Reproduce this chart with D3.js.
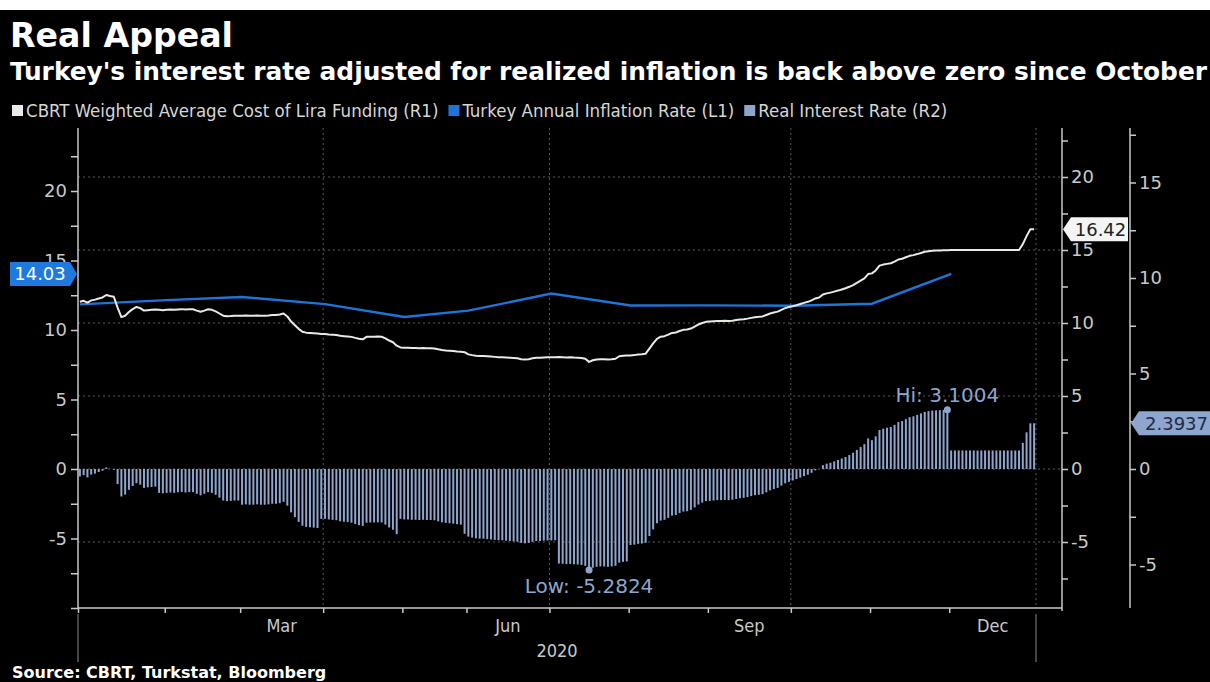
<!DOCTYPE html>
<html>
<head>
<meta charset="utf-8">
<title>Real Appeal</title>
<script src="https://cdn.jsdelivr.net/npm/d3@7"></script>
<style>
  body { margin: 0; background: #000; }
  svg { display: block; }
  text { font-family: "DejaVu Sans", sans-serif; }
  .cond { font-family: "DejaVu Sans Condensed", "DejaVu Sans", sans-serif; font-stretch: condensed; }
</style>
</head>
<body>
<svg id="chart" width="1210" height="682"></svg>
<script>
const width = 1210;
const height = 682;

// weekdays in 2020 with no Turkish market fixing
const holidays = ["2020-04-23", "2020-05-01", "2020-05-19", "2020-05-25", "2020-05-26",
                  "2020-07-15", "2020-07-31", "2020-10-29"];

// CBRT weighted average cost of lira funding, one value per trading day (R1)
const fundingCost = [
  // Jan
  11.45, 11.52, 11.40, 11.55, 11.60, 11.68, 11.75, 11.92, 11.85, 11.80, 11.05, 10.40,
  10.50, 10.75, 10.95, 11.10, 11.02, 10.85, 10.88, 10.90, 10.92, 10.90, 10.88,
  // Feb
  10.90, 10.92, 10.90, 10.93, 10.95, 10.92, 10.94, 10.94, 10.85, 10.77,
  10.85, 10.94, 10.90, 10.80, 10.65, 10.50, 10.47, 10.48, 10.50, 10.50,
  // Mar
  10.50, 10.52, 10.50, 10.50, 10.52, 10.50, 10.50, 10.52, 10.55, 10.55, 10.58,
  10.65, 10.45, 10.10, 9.85, 9.60, 9.40, 9.34, 9.32, 9.30, 9.28, 9.25,
  // Apr
  9.25, 9.22, 9.20, 9.18, 9.12, 9.10, 9.08, 9.05, 8.98, 8.92, 8.88,
  9.05, 9.06, 9.06, 9.07, 9.06, 8.95, 8.80, 8.68, 8.45, 8.33,
  // May
  8.30, 8.30, 8.28, 8.28, 8.27, 8.28, 8.27, 8.27, 8.26, 8.20, 8.15, 8.12,
  8.10, 8.08, 8.05, 8.03, 8.00,
  // Jun
  7.85, 7.80, 7.76, 7.74, 7.74, 7.72, 7.70, 7.68, 7.66, 7.66, 7.64,
  7.62, 7.60, 7.58, 7.52, 7.50, 7.52, 7.58, 7.62, 7.62, 7.64, 7.65,
  // Jul
  7.65, 7.66, 7.67, 7.66, 7.64, 7.65, 7.63, 7.62, 7.60, 7.55, 7.3376,
  7.45, 7.50, 7.52, 7.52, 7.50, 7.52, 7.55, 7.72, 7.76, 7.78,
  // Aug
  7.78, 7.80, 7.84, 7.86, 7.90, 8.25, 8.60, 8.92, 9.06, 9.10, 9.20,
  9.32, 9.35, 9.45, 9.53, 9.55, 9.62, 9.75, 9.90, 10.00, 10.08,
  // Sep
  10.10, 10.12, 10.14, 10.14, 10.15, 10.14, 10.16, 10.20, 10.24, 10.26, 10.30,
  10.35, 10.40, 10.42, 10.45, 10.55, 10.65, 10.72, 10.78, 10.90, 11.02, 11.10,
  // Oct
  11.15, 11.22, 11.30, 11.38, 11.45, 11.55, 11.68, 11.75, 11.95, 12.03, 12.08,
  12.15, 12.22, 12.30, 12.38, 12.48, 12.60, 12.75, 12.90, 13.05, 13.35,
  // Nov
  13.40, 13.60, 13.93, 14.00, 14.05, 14.09, 14.20, 14.35, 14.40, 14.50, 14.60,
  14.65, 14.72, 14.80, 14.88, 14.92, 14.95, 14.96, 14.97, 14.98, 14.99,
  // Dec
  15.00, 15.00, 15.00, 15.00, 15.00, 15.00, 15.00, 15.00, 15.00, 15.00, 15.00, 15.00,
  15.00, 15.00, 15.00, 15.00, 15.00, 15.00, 15.00, 15.40, 15.95, 16.42, 16.4237
];

// real interest rate, one bar per trading day (R2)
const realRate = [
  // Jan
  -0.39, -0.32, -0.44, -0.29, -0.24, -0.16, -0.09, 0.08, 0.01, -0.04, -0.79, -1.44,
  -1.34, -1.09, -0.89, -0.74, -0.82, -0.99, -0.96, -0.94, -0.92, -1.25, -1.27,
  // Feb
  -1.25, -1.23, -1.25, -1.22, -1.20, -1.23, -1.21, -1.21, -1.30, -1.38,
  -1.30, -1.21, -1.25, -1.35, -1.50, -1.65, -1.68, -1.67, -1.65, -1.65,
  // Mar
  -1.87, -1.85, -1.87, -1.87, -1.85, -1.87, -1.87, -1.85, -1.82, -1.82, -1.79,
  -1.72, -1.92, -2.27, -2.52, -2.77, -2.97, -3.03, -3.05, -3.07, -3.09, -2.61,
  // Apr
  -2.61, -2.64, -2.66, -2.68, -2.74, -2.76, -2.78, -2.81, -2.88, -2.94, -2.98,
  -2.81, -2.80, -2.80, -2.79, -2.80, -2.91, -3.06, -3.18, -3.41, -2.61,
  // May
  -2.64, -2.64, -2.66, -2.66, -2.67, -2.66, -2.67, -2.67, -2.68, -2.74, -2.79, -2.82,
  -2.84, -2.86, -2.89, -2.91, -3.39,
  // Jun
  -3.54, -3.59, -3.63, -3.65, -3.65, -3.67, -3.69, -3.71, -3.73, -3.73, -3.75,
  -3.77, -3.79, -3.81, -3.87, -3.89, -3.87, -3.81, -3.77, -3.77, -3.75, -3.74,
  // Jul
  -3.74, -3.73, -4.95, -4.96, -4.98, -4.97, -4.99, -5.00, -5.02, -5.07, -5.2824,
  -5.17, -5.12, -5.10, -5.10, -5.12, -5.10, -5.07, -4.90, -4.86, -4.84,
  // Aug
  -3.98, -3.96, -3.92, -3.90, -3.86, -3.51, -3.16, -2.84, -2.70, -2.66, -2.56,
  -2.44, -2.41, -2.31, -2.23, -2.21, -2.14, -2.01, -1.86, -1.76, -1.68,
  // Sep
  -1.67, -1.65, -1.63, -1.63, -1.62, -1.63, -1.61, -1.57, -1.53, -1.51, -1.47,
  -1.42, -1.37, -1.35, -1.32, -1.22, -1.12, -1.05, -0.99, -0.87, -0.75, -0.67,
  // Oct
  -0.60, -0.53, -0.45, -0.37, -0.30, -0.20, -0.07, 0.00, 0.20, 0.28, 0.33,
  0.40, 0.47, 0.55, 0.63, 0.73, 0.85, 1.00, 1.15, 1.30, 1.60,
  // Nov
  1.51, 1.71, 2.04, 2.11, 2.16, 2.20, 2.31, 2.46, 2.51, 2.61, 2.71,
  2.76, 2.83, 2.91, 2.99, 3.03, 3.06, 3.07, 3.08, 3.09, 3.1004,
  // Dec
  0.97, 0.97, 0.97, 0.97, 0.97, 0.97, 0.97, 0.97, 0.97, 0.97, 0.97, 0.97,
  0.97, 0.97, 0.97, 0.97, 0.97, 0.97, 0.97, 1.37, 1.92, 2.39, 2.3937
];

// annual CPI inflation, drawn on the first trading day of the following month (L1)
const inflationMonths = ["2020-01", "2020-02", "2020-03", "2020-04", "2020-05", "2020-06",
                         "2020-07", "2020-08", "2020-09", "2020-10", "2020-11", "2020-12"];
const inflation = [11.84, 12.15, 12.37, 11.86, 10.94, 11.39, 12.62, 11.76, 11.77, 11.75, 11.89, 14.03];

const legendLabels = ["CBRT Weighted Average Cost of Lira Funding (R1)",
                      "Turkey Annual Inflation Rate (L1)",
                      "Real Interest Rate (R2)"];
const monthLabels = ["Mar", "Jun", "Sep", "Dec"];
const gridMonths = ["Apr", "Jul", "Oct"];

const colors = { cost: "#e9e9e9", cpi: "#1f74d8", real: "#8ea5cd", axis: "#c9c9c9", grid: "#5a5a5a" };

// trading days
const fmtDay = d3.timeFormat("%Y-%m-%d");
const fmtMonth = d3.timeFormat("%Y-%m");
const fmtMon = d3.timeFormat("%b");
const days = d3.timeDay.range(new Date(2020, 0, 1), new Date(2021, 0, 1))
  .filter(d => d.getDay() > 0 && d.getDay() < 6 && !holidays.includes(fmtDay(d)));

const svg = d3.select("#chart");

// backgrounds
svg.append("rect").attr("width", width).attr("height", height).attr("fill", "#fff");
svg.append("rect").attr("y", 10).attr("width", width).attr("height", height - 10).attr("fill", "#000");

// scales
const x = d3.scaleLinear().domain([0, days.length]).range([78, 1036]);
const yL = d3.scaleLinear().domain([-10, 20]).range([608, 191]);
const yR1 = d3.scaleLinear().domain([-5, 20]).range([542, 177]);
const yR2 = d3.scaleLinear().domain([-5, 15]).range([564.5, 182.5]);
const plotTop = 128, plotBottom = 608, right1 = 1062, right2 = 1130;

// month boundaries
const months = d3.groups(days.map((d, i) => ({ d, i })), o => fmtMonth(o.d))
  .map(([key, arr]) => ({ key, name: fmtMon(arr[0].d), start: arr[0].i, end: arr[arr.length - 1].i + 1 }));

// gridlines
const grid = svg.append("g").attr("stroke", colors.grid).attr("stroke-dasharray", "2,3");
grid.selectAll(".hgrid")
  .data(d3.range(-5, 21, 5))
  .enter().append("line")
  .attr("x1", 78).attr("x2", right1)
  .attr("y1", d => yR1(d)).attr("y2", d => yR1(d));
grid.selectAll(".vgrid")
  .data(months.filter(m => gridMonths.includes(m.name)).map(m => m.start).concat([days.length]))
  .enter().append("line")
  .attr("x1", d => x(d)).attr("x2", d => x(d))
  .attr("y1", plotTop).attr("y2", plotBottom);

// real rate bars
svg.append("g").selectAll("rect")
  .data(realRate)
  .enter().append("rect")
  .attr("x", (d, i) => x(i + 0.5) - 1)
  .attr("width", 2)
  .attr("y", d => Math.min(yR2(d), yR2(0)))
  .attr("height", d => Math.abs(yR2(d) - yR2(0)))
  .attr("fill", colors.real);

// inflation line
const cpiPoints = inflationMonths.map((m, k) => ({ i: months.find(o => o.key === m).start, v: inflation[k] }));
svg.append("path")
  .datum(cpiPoints)
  .attr("fill", "none")
  .attr("stroke", colors.cpi)
  .attr("stroke-width", 2.4)
  .attr("d", d3.line().x(p => x(p.i + 0.5)).y(p => yL(p.v)));

// funding cost line
svg.append("path")
  .datum(fundingCost)
  .attr("fill", "none")
  .attr("stroke", colors.cost)
  .attr("stroke-width", 2)
  .attr("stroke-linejoin", "round")
  .attr("d", d3.line().x((d, i) => x(i + 0.5)).y(d => yR1(d)));

// axes
function styleAxis(g) {
  g.select(".domain").remove();
  g.selectAll(".tick line").attr("stroke", colors.axis).attr("stroke-width", 1.5);
  g.selectAll(".tick text").attr("fill", colors.axis).attr("font-size", 18)
    .attr("font-family", "DejaVu Sans, sans-serif");
}
const major = d => (d % 5 === 0 ? d : "");

svg.append("g").attr("transform", "translate(78,0)")
  .call(d3.axisLeft(yL).tickValues(d3.range(-10, 24, 2.5)).tickSize(7).tickPadding(4)
    .tickFormat(d => (d % 5 === 0 && d > -10 ? d : "")))
  .call(styleAxis);
svg.append("g").attr("transform", `translate(${right1},0)`)
  .call(d3.axisRight(yR1).tickValues(d3.range(-7.5, 23, 2.5)).tickSize(6).tickPadding(3).tickFormat(major))
  .call(styleAxis);
svg.append("g").attr("transform", `translate(${right2},0)`)
  .call(d3.axisRight(yR2).tickValues(d3.range(-5, 18, 2.5)).tickSize(6).tickPadding(3).tickFormat(major))
  .call(styleAxis);
svg.append("g").attr("transform", `translate(0,${plotBottom})`)
  .call(d3.axisBottom(x).tickValues(months.map(m => m.start)).tickSize(5).tickFormat(""))
  .call(styleAxis);

const axisLines = svg.append("g").attr("stroke", colors.axis).attr("stroke-width", 1.5);
axisLines.append("line").attr("x1", 78).attr("x2", 78).attr("y1", plotTop).attr("y2", plotBottom);
axisLines.append("line").attr("x1", right1).attr("x2", right1).attr("y1", plotTop).attr("y2", plotBottom + 3);
axisLines.append("line").attr("x1", right2).attr("x2", right2).attr("y1", plotTop).attr("y2", plotBottom);
axisLines.append("line").attr("x1", 78).attr("x2", right1).attr("y1", plotBottom).attr("y2", plotBottom);

// year separators under the axis
svg.append("g").selectAll("line")
  .data([0, days.length])
  .enter().append("line")
  .attr("x1", d => x(d)).attr("x2", d => x(d))
  .attr("y1", plotBottom + 6).attr("y2", plotBottom + 54)
  .attr("stroke", "#8a8a8a");

svg.append("g").selectAll("text")
  .data(months.filter(m => monthLabels.includes(m.name)))
  .enter().append("text")
  .attr("class", "cond")
  .attr("x", m => x((m.start + m.end) / 2))
  .attr("y", 632)
  .attr("text-anchor", "middle")
  .attr("font-size", 18)
  .attr("fill", colors.axis)
  .text(m => m.name);
svg.append("text").attr("class", "cond")
  .attr("x", x(days.length / 2)).attr("y", 657)
  .attr("text-anchor", "middle").attr("font-size", 18).attr("fill", colors.axis)
  .text("2020");

// Hi / Low markers
const hiIdx = d3.maxIndex(realRate), loIdx = d3.minIndex(realRate);
const f4 = d3.format(".4f");
[{ i: hiIdx, label: "Hi: ", dy: -8 }, { i: loIdx, label: "Low: ", dy: 23 }].forEach(m => {
  const cx = x(m.i + 0.5), cy = yR2(realRate[m.i]);
  svg.append("circle").attr("cx", cx).attr("cy", cy).attr("r", 3.5).attr("fill", colors.real);
  svg.append("text").attr("x", cx).attr("y", cy + m.dy)
    .attr("text-anchor", "middle").attr("font-size", 20).attr("fill", colors.real)
    .text(m.label + f4(realRate[m.i]).replace("−", "-"));
});

// value tags on the axes
function tag(tipX, y, bodyX0, bodyX1, fill, textFill, label) {
  const h = 24, pointRight = tipX > bodyX1;
  const pts = pointRight
    ? [[bodyX0, y - h / 2], [bodyX1, y - h / 2], [tipX, y], [bodyX1, y + h / 2], [bodyX0, y + h / 2]]
    : [[tipX, y], [bodyX0, y - h / 2], [bodyX1, y - h / 2], [bodyX1, y + h / 2], [bodyX0, y + h / 2]];
  svg.append("polygon").attr("points", pts.map(p => p.join(",")).join(" ")).attr("fill", fill);
  svg.append("text").attr("x", (bodyX0 + bodyX1) / 2 + (pointRight ? 0 : 1)).attr("y", y + 6.5)
    .attr("text-anchor", "middle").attr("font-size", 18).attr("fill", textFill).text(label);
}
const lastCost = fundingCost[fundingCost.length - 1];
const lastReal = realRate[realRate.length - 1];
const lastCpi = inflation[inflation.length - 1];
tag(77, yL(lastCpi), 10, 70, "#1f7ae0", "#fff", lastCpi.toFixed(2));
tag(right1 + 1, yR1(lastCost), right1 + 9, 1128, "#f4f4f4", "#222", lastCost.toFixed(2));
tag(right2 + 1, yR2(lastReal), right2 + 9, 1212, colors.real, "#1d2b48", lastReal.toFixed(4));

// title, subtitle, legend, source
svg.append("text").attr("x", 10).attr("y", 47)
  .attr("font-size", 33).attr("font-weight", "bold").attr("fill", "#fff")
  .attr("textLength", 223).attr("lengthAdjust", "spacingAndGlyphs")
  .text("Real Appeal");
svg.append("text").attr("class", "cond").attr("x", 10).attr("y", 80)
  .attr("font-size", 24).attr("font-weight", "bold").attr("fill", "#fff")
  .attr("textLength", 1197).attr("lengthAdjust", "spacingAndGlyphs")
  .text("Turkey's interest rate adjusted for realized inflation is back above zero since October");

const legendColors = [colors.cost, colors.cpi, colors.real];
let lx = 12;
legendLabels.forEach((label, k) => {
  svg.append("rect").attr("x", lx).attr("y", 105).attr("width", 11).attr("height", 11).attr("fill", legendColors[k]);
  const t = svg.append("text").attr("class", "cond").attr("x", lx + 14).attr("y", 117)
    .attr("font-size", 18.5).attr("fill", "#d6d6d6").text(label);
  lx += 14 + t.node().getComputedTextLength() + 10;
});

svg.append("text").attr("x", 12).attr("y", 678)
  .attr("font-size", 16).attr("font-weight", "bold").attr("fill", "#fff")
  .text("Source: CBRT, Turkstat, Bloomberg");
</script>
</body>
</html>
